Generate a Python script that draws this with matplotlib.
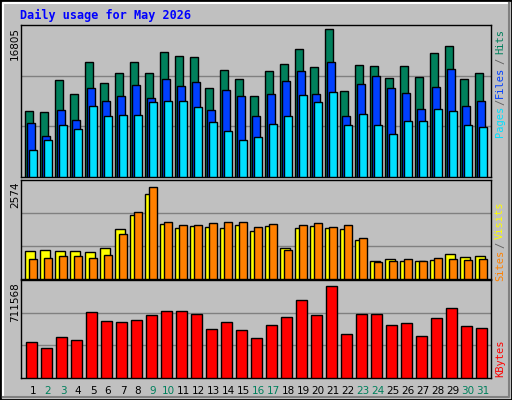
import matplotlib
matplotlib.use("Agg")
import matplotlib.pyplot as plt
from matplotlib.patches import Rectangle
from matplotlib.lines import Line2D
import numpy as np

days = list(range(1, 32))
weekend = [2, 3, 9, 10, 16, 17, 23, 24, 30, 31]
hits = [7452, 7338, 10988, 9391, 13041, 10646, 11786, 13041, 11786, 14181, 13725, 13611, 10075, 12128, 11102,
        9163, 12014, 12813, 14524, 12471, 16805, 9733, 12699, 12585, 11216, 12585, 11330, 14067, 14866, 11102, 11786]
files = [6197, 4714, 7566, 6539, 10075, 8593, 9163, 10418, 8935, 11102, 10303, 10760, 7566, 9847, 9163,
         6882, 9391, 10874, 12014, 9391, 13041, 6882, 10532, 11444, 10075, 9505, 7680, 10189, 12242, 8022, 8593]
pages = [3118, 4258, 5969, 5513, 8022, 6882, 6996, 6996, 8478, 8593, 8593, 7908, 6311, 5285, 4258,
         4600, 6083, 6882, 9277, 8478, 9619, 5969, 7110, 5969, 4943, 6425, 6425, 7680, 7452, 5969, 5741]
sites = [790, 818, 790, 790, 762, 873, 1403, 1793, 2379, 1542, 1431, 1487, 1459, 1431, 1515,
         1347, 1487, 873, 1431, 1487, 1431, 1403, 1096, 511, 567, 511, 511, 539, 706, 623, 650]
visits = [567, 595, 650, 650, 595, 678, 1264, 1877, 2574, 1598, 1515, 1515, 1570, 1598, 1598,
          1459, 1542, 818, 1515, 1570, 1459, 1515, 1152, 483, 511, 567, 511, 595, 567, 539, 567]
kbytes = [275282, 228536, 314237, 290864, 509012, 438893, 431102, 446684, 485639, 516803, 516803, 493430,
          376565, 431102, 368774, 306446, 407729, 470057, 602504, 485639, 711568, 337610, 493430, 493430,
          407729, 423311, 322028, 462266, 540176, 399938, 384356]

BG = "#c0c0c0"
GREEN, BLUE, CYAN = "#00805c", "#0040ff", "#00e0ff"
YELLOW, ORANGE, RED = "#ffff00", "#ff8000", "#ff0000"

fig = plt.figure(figsize=(5.12, 4.0), dpi=100, facecolor=BG)
W, H = 512, 400
fig.add_artist(Rectangle((0, 0), 1, 1, transform=fig.transFigure, fill=False, ec="black", lw=2))
fig.add_artist(Line2D([3/W, 3/W, 1-3/W], [3/H, 1-3/H, 1-3/H], transform=fig.transFigure, color="white", lw=1.5))
fig.add_artist(Line2D([3/W, 1-3/W, 1-3/W], [3/H, 3/H, 1-3/H], transform=fig.transFigure, color="#808080", lw=1.5))

def mkax(top, bot):
    ax = fig.add_axes([20.7/W, 1-bot/H, 470/W, (bot-top)/H])
    ax.set_facecolor(BG)
    ax.set_xlim(0.39, 31.72)
    ax.set_xticks([]); ax.set_yticks([])
    for s in ax.spines.values():
        s.set_color("black"); s.set_linewidth(1)
    return ax

d = np.array(days)
kw = dict(align="edge", edgecolor="black", linewidth=1, zorder=3)

ax1 = mkax(25, 177)
top1 = max(hits) / 0.972
ax1.set_ylim(0, top1)
for g in (top1/3, 2*top1/3):
    ax1.axhline(g, color="#808080", lw=1, zorder=1)
ax1.bar(d-0.30, hits, 0.49, color=GREEN, **kw)
ax1.bar(d-0.167, files, 0.49, color=BLUE, **kw)
ax1.bar(d-0.033, pages, 0.49, color=CYAN, **kw)

ax2 = mkax(180, 279)
top2 = max(visits) / 0.932
ax2.set_ylim(0, top2)
for g in (top2/3, 2*top2/3):
    ax2.axhline(g, color="#808080", lw=1, zorder=1)
ax2.bar(d-0.30, sites, 0.62, color=YELLOW, **kw)
ax2.bar(d-0.033, visits, 0.49, color=ORANGE, **kw)

ax3 = mkax(280, 377.5)
top3 = max(kbytes) / 0.935
ax3.set_ylim(0, top3)
for g in (top3/3, 2*top3/3):
    ax3.axhline(g, color="#808080", lw=1, zorder=1)
ax3.bar(d-0.233, kbytes, 0.69, color=RED, **kw)
ax3.set_xticks(d+0.21)
ax3.set_xticklabels([str(x) for x in days], fontsize=7.5, family="DejaVu Sans")
ax3.tick_params(axis="x", length=0, pad=6)
for lbl, x in zip(ax3.get_xticklabels(), days):
    lbl.set_color(GREEN if x in weekend else "black")

fig.text(20/W, 1-15/H, "Daily usage for May 2026", color="#0000ff", fontsize=8.5,
         family="DejaVu Sans Mono", weight="bold", va="center", ha="left")

def ylab(text, ytop):
    fig.text(15/W, 1-ytop/H, text, rotation=90, fontsize=7.5, family="DejaVu Sans",
             ha="center", va="top")
ylab(str(max(hits)), 27)
ylab(str(max(visits)), 181)
ylab(str(max(kbytes)), 282)

def rlab(text, yc, color):
    fig.text(500/W, 1-yc/H, text, rotation=90, fontsize=7.5, family="DejaVu Sans Mono",
             color=color, ha="center", va="center")
rlab("Pages", 121, CYAN); rlab("/", 102, "#606060"); rlab("Files", 82, BLUE)
rlab("/", 61, "#606060"); rlab("Hits", 41, GREEN)
rlab("Sites", 265, ORANGE); rlab("/", 245, "#606060"); rlab("Visits", 220, YELLOW)
rlab("KBytes", 358, RED)

fig.savefig("out.png", dpi=100, facecolor=BG)
